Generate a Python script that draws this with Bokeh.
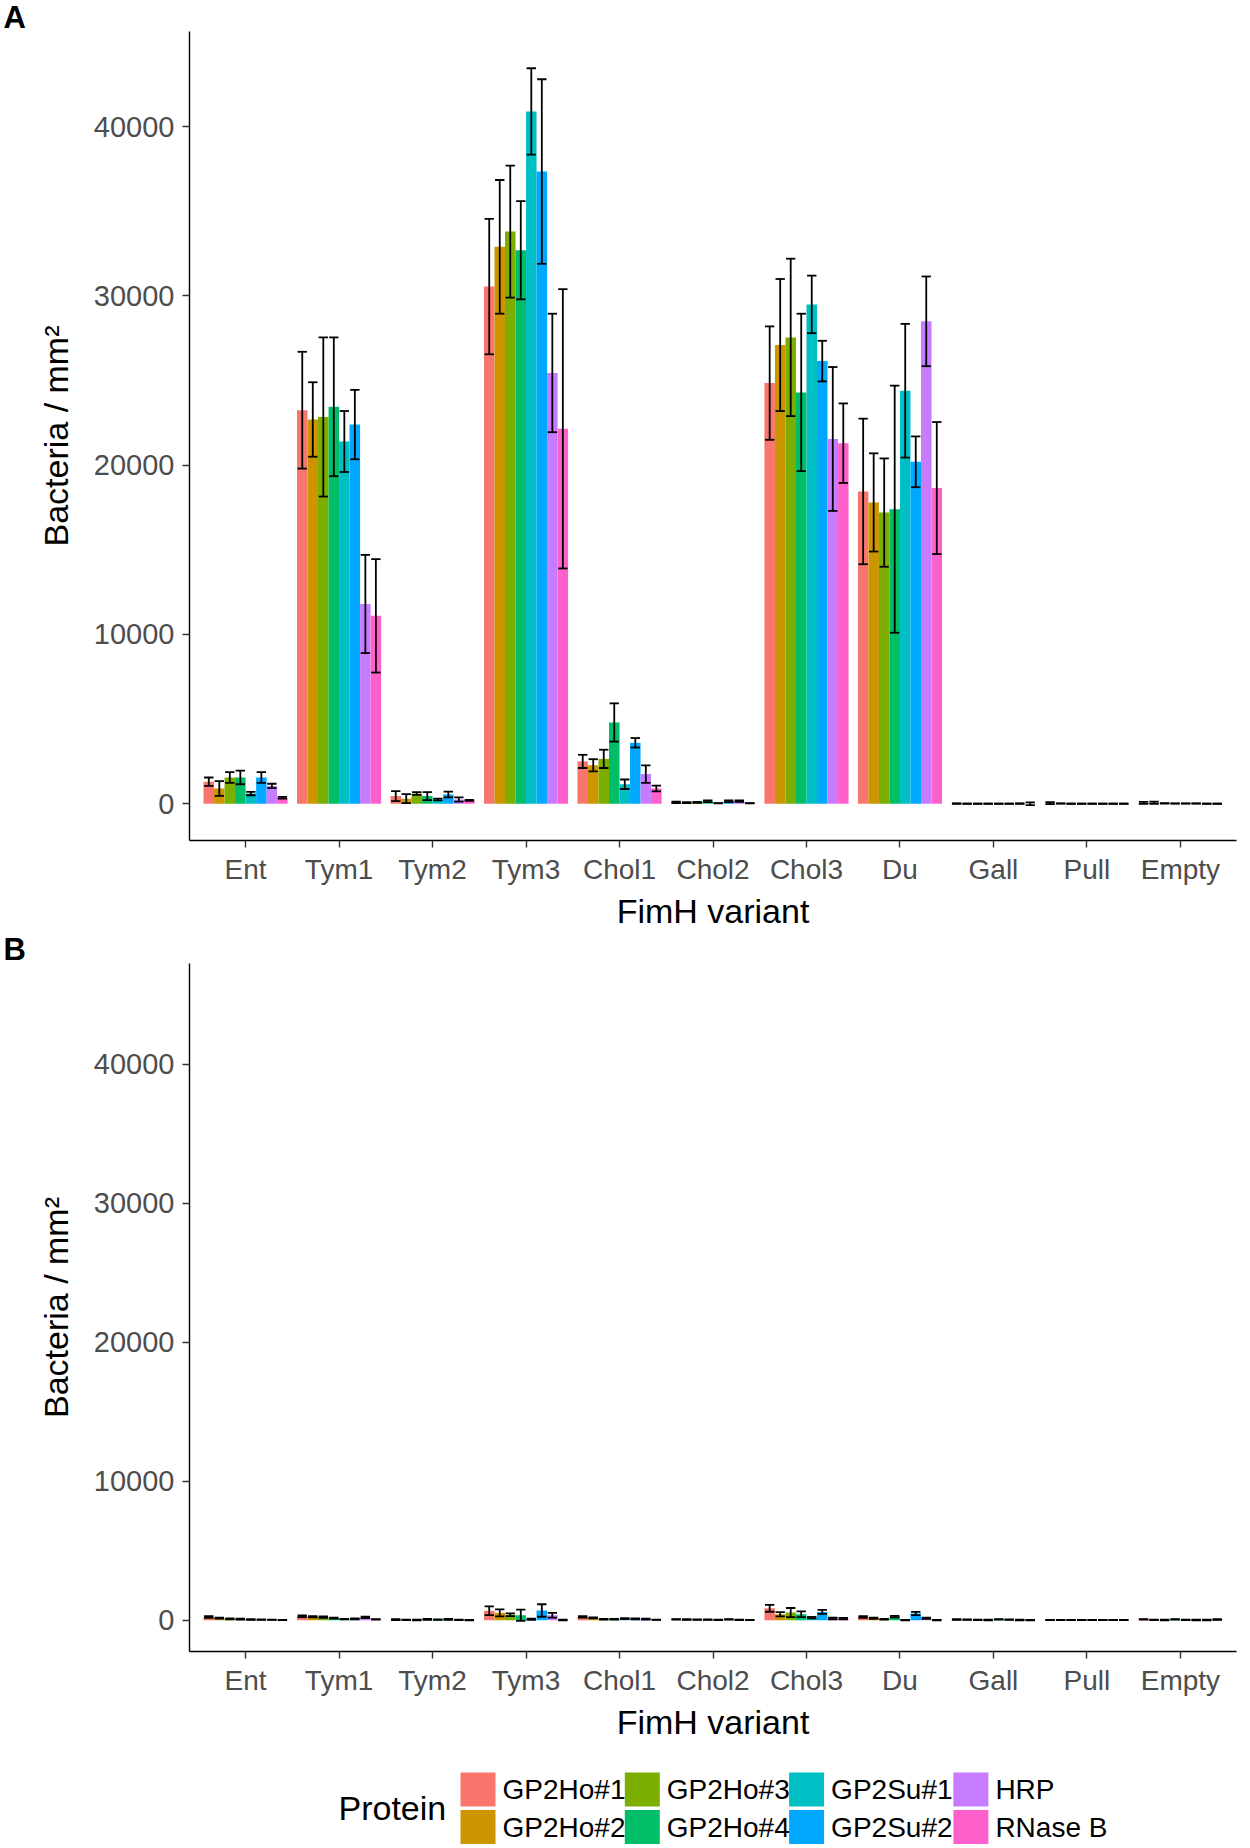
from bokeh.plotting import figure
from bokeh.models import ColumnDataSource, FactorRange, Range1d, FixedTicker, BasicTickFormatter
from bokeh.transform import dodge
from bokeh.layouts import column
from bokeh.embed import file_html
from bokeh.resources import INLINE
from bokeh.core.properties import value

# ---------------- data ----------------
cats = ["Ent", "Tym1", "Tym2", "Tym3", "Chol1", "Chol2", "Chol3", "Du", "Gall", "Pull", "Empty"]
proteins = ["GP2Ho#1", "GP2Ho#2", "GP2Ho#3", "GP2Ho#4", "GP2Su#1", "GP2Su#2", "HRP", "RNase B"]
colors = ["#F8766D", "#CD9600", "#7CAE00", "#00BE67", "#00BFC4", "#00A9FF", "#C77CFF", "#FF61CC"]
yticks = [0, 10000, 20000, 30000, 40000]

# Panel A: mean bacteria / mm2 per FimH variant (order of cats)
A_ho1 = [1300, 23250, 450, 30550, 2500, 80, 24850, 18450, 10, 40, 50]
A_ho2 = [900, 22700, 300, 32900, 2270, 60, 27100, 17800, 5, 10, 60]
A_ho3 = [1550, 22850, 600, 33800, 2650, 80, 27550, 17200, 5, 5, 20]
A_ho4 = [1550, 23450, 450, 32700, 4800, 150, 24300, 17400, 5, 5, 10]
A_su1 = [600, 21400, 250, 40900, 1150, 30, 29500, 24400, 5, 5, 10]
A_su2 = [1550, 22400, 550, 37350, 3600, 150, 26150, 20200, 5, 5, 10]
A_hrp = [1050, 11800, 250, 25450, 1750, 150, 21550, 28500, 10, 5, 5]
A_rnb = [350, 11100, 200, 22150, 900, 30, 21300, 18650, 0, 5, 5]
# Panel A: error (half-length of error bars)
Ae_ho1 = [250, 3450, 300, 4000, 390, 40, 3350, 4300, 10, 60, 60]
Ae_ho2 = [440, 2200, 270, 3950, 360, 30, 3900, 2900, 5, 5, 60]
Ae_ho3 = [320, 4700, 80, 3900, 540, 30, 4650, 3200, 5, 5, 10]
Ae_ho4 = [400, 4100, 240, 2900, 1130, 50, 4650, 7300, 5, 5, 5]
Ae_su1 = [100, 1800, 50, 2550, 280, 10, 1700, 3950, 5, 5, 5]
Ae_su2 = [320, 2050, 170, 5450, 280, 50, 1200, 1500, 5, 5, 5]
Ae_hrp = [130, 2900, 120, 3500, 520, 40, 4250, 2650, 10, 5, 5]
Ae_rnb = [50, 3350, 30, 8250, 170, 10, 2350, 3900, 80, 5, 5]

# Panel B
B_ho1 = [240, 280, 40, 680, 240, 60, 860, 240, 50, 10, 60]
B_ho2 = [150, 250, 30, 530, 170, 50, 430, 140, 40, 10, 30]
B_ho3 = [100, 220, 20, 400, 70, 40, 550, 70, 30, 10, 20]
B_ho4 = [80, 150, 60, 360, 70, 40, 430, 260, 20, 10, 60]
B_su1 = [50, 80, 40, 70, 120, 30, 190, 10, 60, 10, 30]
B_su2 = [40, 100, 60, 700, 100, 60, 600, 480, 40, 10, 20]
B_hrp = [30, 200, 30, 360, 80, 30, 120, 140, 20, 10, 20]
B_rnb = [20, 60, 10, 20, 30, 20, 120, 10, 10, 10, 50]
Be_ho1 = [60, 60, 30, 320, 50, 20, 250, 60, 20, 5, 20]
Be_ho2 = [40, 50, 20, 250, 40, 20, 150, 40, 20, 5, 20]
Be_ho3 = [40, 50, 20, 100, 30, 20, 330, 30, 20, 5, 20]
Be_ho4 = [30, 40, 30, 400, 30, 20, 200, 60, 20, 5, 20]
Be_su1 = [20, 20, 20, 50, 30, 20, 50, 10, 20, 5, 20]
Be_su2 = [20, 30, 30, 450, 30, 20, 150, 120, 20, 5, 20]
Be_hrp = [10, 50, 20, 170, 30, 20, 60, 40, 20, 5, 20]
Be_rnb = [10, 20, 10, 30, 10, 10, 50, 10, 10, 5, 20]
B_YLIMIT = 45000

A_means = [A_ho1, A_ho2, A_ho3, A_ho4, A_su1, A_su2, A_hrp, A_rnb]
A_errs = [Ae_ho1, Ae_ho2, Ae_ho3, Ae_ho4, Ae_su1, Ae_su2, Ae_hrp, Ae_rnb]
B_means = [B_ho1, B_ho2, B_ho3, B_ho4, B_su1, B_su2, B_hrp, B_rnb]
B_errs = [Be_ho1, Be_ho2, Be_ho3, Be_ho4, Be_su1, Be_su2, Be_hrp, Be_rnb]

# ---------------- style ----------------
FONT = "Liberation Sans"
W = 1242
BAR_W = 0.9 / len(proteins)
CAP = 0.05
LEFT, RIGHT = 189, 6
FRAME_W = W - LEFT - RIGHT


def make_panel(letter, means, errs, ymax, height, top, bottom):
    xr = FactorRange(factors=cats, range_padding=0.1, range_padding_units="absolute")
    yr = Range1d(-0.05 * ymax, 1.05 * ymax)
    p = figure(x_range=xr, y_range=yr, width=W, height=height,
               output_backend="svg", toolbar_location=None,
               min_border_left=LEFT, min_border_right=RIGHT,
               min_border_top=top, min_border_bottom=bottom)
    p.outline_line_color = None
    p.grid.visible = False
    p.background_fill_color = "white"
    p.border_fill_color = "white"

    # panel letter as title
    p.title.text = letter
    p.title.align = "left"
    p.title.offset = -(LEFT - 3)
    p.title.standoff = -6
    p.title.text_font = FONT
    p.title.text_font_size = "31px"
    p.title.text_font_style = "bold"
    p.title.text_color = "black"

    for j, prot in enumerate(proteins):
        off = (j - (len(proteins) - 1) / 2) * BAR_W
        src = ColumnDataSource(dict(cat=cats, mean=means[j]))
        p.vbar(x=dodge("cat", off, range=xr), top="mean", bottom=0, width=BAR_W,
               fill_color=colors[j], line_color=None, source=src)
    for j, prot in enumerate(proteins):
        off = (j - (len(proteins) - 1) / 2) * BAR_W
        lo = [m - e for m, e in zip(means[j], errs[j])]
        hi = [m + e for m, e in zip(means[j], errs[j])]
        src = ColumnDataSource(dict(cat=cats, lo=lo, hi=hi))
        kw = dict(line_color="black", line_width=1.8, source=src)
        p.segment(x0=dodge("cat", off, range=xr), x1=dodge("cat", off, range=xr),
                  y0="lo", y1="hi", **kw)
        p.segment(x0=dodge("cat", off - CAP, range=xr), x1=dodge("cat", off + CAP, range=xr),
                  y0="hi", y1="hi", **kw)
        p.segment(x0=dodge("cat", off - CAP, range=xr), x1=dodge("cat", off + CAP, range=xr),
                  y0="lo", y1="lo", **kw)

    for ax in (p.xaxis[0], p.yaxis[0]):
        ax.axis_line_color = "black"
        ax.axis_line_width = 1.4
        ax.major_tick_line_color = "#333333"
        ax.major_tick_line_width = 1.4
        ax.major_tick_out = 7
        ax.major_tick_in = 0
        ax.minor_tick_line_color = None
        ax.major_label_text_font = FONT
        ax.major_label_text_font_size = "28px"
        ax.major_label_text_color = "#4D4D4D"
        ax.axis_label_text_font = FONT
        ax.axis_label_text_font_size = "34px"
        ax.axis_label_text_font_style = "normal"
        ax.axis_label_text_color = "black"
    p.xaxis.axis_label = "FimH variant"
    p.xaxis.major_label_standoff = 6
    p.xaxis.axis_label_standoff = 4
    p.yaxis.axis_label = "Bacteria / mm\u00b2"
    p.yaxis.ticker = FixedTicker(ticks=yticks)
    p.yaxis.formatter = BasicTickFormatter(use_scientific=False)
    p.yaxis.major_label_text_font_size = "29px"
    p.yaxis.major_label_standoff = 8
    p.yaxis.axis_label_standoff = 16
    return p


ymaxA = max(m + e for ms, es in zip(A_means, A_errs) for m, e in zip(ms, es))
pA = make_panel("A", A_means, A_errs, ymaxA, 932, 30, 89)
pB = make_panel("B", B_means, B_errs, B_YLIMIT, 828, 29, 109)

# ---------------- legend ----------------
LH = 88
pL = figure(width=W, height=LH, x_range=Range1d(0, FRAME_W), y_range=Range1d(0, LH),
            output_backend="svg", toolbar_location=None,
            x_axis_type=None, y_axis_type=None,
            min_border_left=LEFT, min_border_right=RIGHT, min_border_top=0, min_border_bottom=0)
pL.outline_line_color = None
pL.grid.visible = False
pL.background_fill_color = "white"
pL.border_fill_color = "white"

KEY_W, KEY_H, COL_STEP, ROW_STEP = 35, 34, 164.3, 37.5
X0 = 460 - LEFT          # left edge of first key (in frame pixels)
Y_TOP = 59               # centre of first key row (frame pixels from bottom)
kx = [X0 + (j // 2) * COL_STEP + KEY_W / 2 for j in range(len(proteins))]
ky = [Y_TOP - (j % 2) * ROW_STEP for j in range(len(proteins))]
tx = [X0 + (j // 2) * COL_STEP + KEY_W + 7 for j in range(len(proteins))]
lsrc = ColumnDataSource(dict(x=kx, y=ky, tx=tx, c=colors, name=proteins))
pL.rect(x="x", y="y", width=KEY_W, height=KEY_H, fill_color="c", line_color=None, source=lsrc)
pL.text(x="tx", y="y", text="name", text_font=value(FONT), text_font_size="28px",
        text_baseline="middle", text_align="left", text_color="black", source=lsrc)
pL.text(x=[338 - LEFT], y=[Y_TOP - ROW_STEP / 2], text=["Protein"], text_font=value(FONT),
        text_font_size="34px", text_baseline="middle", text_align="left", text_color="black")

layout = column(pA, pB, pL, spacing=0)
open("out.html", "w").write(file_html(layout, INLINE))
